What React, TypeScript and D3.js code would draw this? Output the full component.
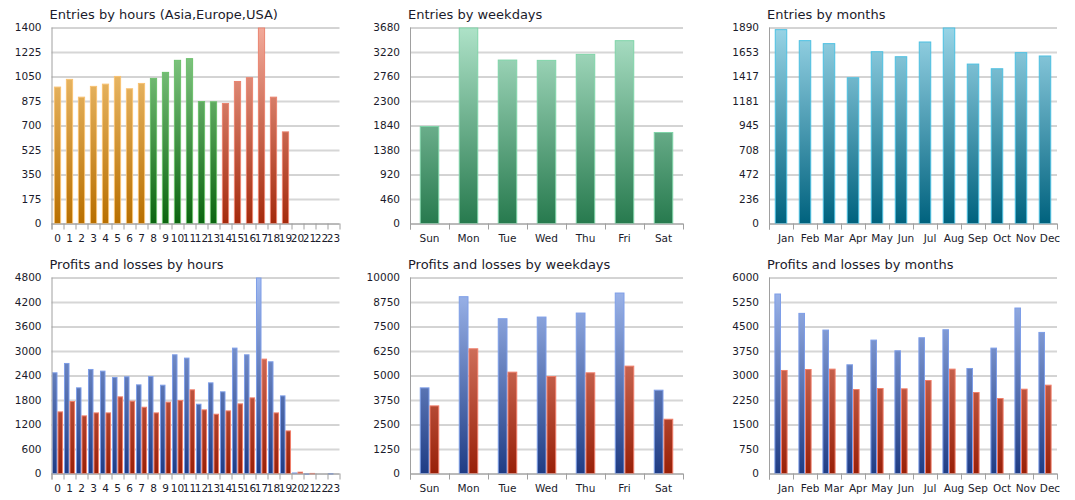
import * as d3 from "d3";
import React from "react";

// ---- data ----
const HOURS = ["0", "1", "2", "3", "4", "5", "6", "7", "8", "9", "10", "11", "12", "13", "14", "15", "16", "17", "18", "19", "20", "21", "22", "23"];
const HOUR_SESSION = [
  "asia", "asia", "asia", "asia", "asia", "asia", "asia", "asia",
  "europe", "europe", "europe", "europe", "europe", "europe",
  "usa", "usa", "usa", "usa", "usa", "usa",
  "usa", "usa", "usa", "usa",
];
const ENTRIES_BY_HOUR = [978, 1033, 906, 983, 999, 1054, 966, 1004, 1040, 1083, 1169, 1181, 875, 873, 861, 1018, 1045, 1400, 906, 658, 0, 0, 0, 0];
const PROFITS_BY_HOUR = [2478, 2707, 2110, 2560, 2519, 2363, 2380, 2183, 2388, 2175, 2919, 2838, 1709, 2232, 2012, 3083, 2919, 4800, 2748, 1913, 25, 4, 0, 10];
const LOSSES_BY_HOUR = [1521, 1775, 1423, 1496, 1496, 1889, 1783, 1635, 1496, 1758, 1799, 2061, 1570, 1464, 1545, 1717, 1864, 2813, 1496, 1055, 45, 14, 0, 0];

const WEEKDAYS = ["Sun", "Mon", "Tue", "Wed", "Thu", "Fri", "Sat"];
const ENTRIES_BY_WEEKDAY = [1831, 3680, 3078, 3072, 3185, 3442, 1718];
const PROFITS_BY_WEEKDAY = [4395, 9046, 7922, 8007, 8211, 9233, 4276];
const LOSSES_BY_WEEKDAY = [3475, 6388, 5196, 4974, 5162, 5503, 2794];

const MONTHS = ["Jan", "Feb", "Mar", "Apr", "May", "Jun", "Jul", "Aug", "Sep", "Oct", "Nov", "Dec"];
const ENTRIES_BY_MONTH = [1874, 1768, 1739, 1410, 1661, 1613, 1755, 1890, 1542, 1497, 1652, 1620];
const PROFITS_BY_MONTH = [5510, 4917, 4406, 3343, 4099, 3772, 4171, 4416, 3230, 3854, 5081, 4334];
const LOSSES_BY_MONTH = [3169, 3199, 3210, 2586, 2617, 2607, 2862, 3210, 2494, 2310, 2596, 2719];

const TICKS_ENTRIES_HOURS = [0, 175, 350, 525, 700, 875, 1050, 1225, 1400];
const TICKS_ENTRIES_WEEKDAYS = [0, 460, 920, 1380, 1840, 2300, 2760, 3220, 3680];
const TICKS_ENTRIES_MONTHS = [0, 236, 472, 708, 945, 1181, 1417, 1653, 1890];
const TICKS_PROFITS_HOURS = [0, 600, 1200, 1800, 2400, 3000, 3600, 4200, 4800];
const TICKS_PROFITS_WEEKDAYS = [0, 1250, 2500, 3750, 5000, 6250, 7500, 8750, 10000];
const TICKS_PROFITS_MONTHS = [0, 750, 1500, 2250, 3000, 3750, 4500, 5250, 6000];

const PALETTE: Record<string, { top: string; bottom: string; stroke: string }> = {
  asia: { top: "#f6cb82", bottom: "#b86f00", stroke: "#f8c274" },
  europe: { top: "#92d492", bottom: "#0b6410", stroke: "#6cc06c" },
  usa: { top: "#f2aa9a", bottom: "#a42a0c", stroke: "#ea8470" },
  weekday: { top: "#aee2c8", bottom: "#277a4e", stroke: "#7fd4a8" },
  month: { top: "#98d4e6", bottom: "#00627e", stroke: "#4cc0e2" },
  profit: { top: "#a4bcf0", bottom: "#1f3c84", stroke: "#7e9ee8" },
  loss: { top: "#ec9a88", bottom: "#982008", stroke: "#f07e6a" },
};

const FONT = "'DejaVu Sans', Verdana, sans-serif";
const TEXT = "#1b1b2b";

interface Series {
  values: number[];
  colorKeys: string[];
}

interface PanelProps {
  id: string;
  title: string;
  categories: string[];
  series: Series[];
  ticks: number[];
  left: number;
  top: number;
  width: number;
  height: number;
  groupWidth: number;
  labelDx?: number;
}

const BarPanel: React.FC<PanelProps> = ({
  id,
  title,
  categories,
  series,
  ticks,
  left,
  top,
  width,
  height,
  groupWidth,
  labelDx = 0,
}) => {
  const x = d3.scaleBand<string>().domain(categories).range([0, width]).padding(0);
  const y = d3
    .scaleLinear()
    .domain([0, ticks[ticks.length - 1]])
    .range([height, 0]);

  const inner = d3
    .scaleBand<number>()
    .domain(d3.range(series.length))
    .range([0, x.bandwidth() * groupWidth]);
  const offset = (x.bandwidth() * (1 - groupWidth)) / 2;

  const usedKeys = Array.from(new Set(series.flatMap((s) => s.colorKeys)));
  const boundaries = categories.map((c) => x(c)!).concat(width);

  return (
    <g transform={`translate(${left},${top})`}>
      <defs>
        {usedKeys.map((k) => (
          <linearGradient
            key={k}
            id={`${id}-${k}`}
            gradientUnits="userSpaceOnUse"
            x1={0}
            y1={0}
            x2={0}
            y2={height}
          >
            <stop offset="0%" stopColor={PALETTE[k].top} />
            <stop offset="100%" stopColor={PALETTE[k].bottom} />
          </linearGradient>
        ))}
      </defs>

      <text x={-2} y={-8.5} fontFamily={FONT} fontSize={13} fill={TEXT}>
        {title}
      </text>

      {/* grid */}
      {ticks.map((t, i) => (
        <line
          key={t}
          x1={0}
          x2={width}
          y1={Math.round(y(t)) + (i % 2 === 0 ? 0.5 : 0)}
          y2={Math.round(y(t)) + (i % 2 === 0 ? 0.5 : 0)}
          stroke={i % 2 === 0 ? "#a8a8a8" : "#d6d6d6"}
          strokeWidth={i % 2 === 0 ? 1 : 2}
        />
      ))}

      {/* y labels */}
      {ticks.map((t) => (
        <text
          key={`l${t}`}
          x={-10}
          y={y(t)}
          dy="0.36em"
          textAnchor="end"
          fontFamily={FONT}
          fontSize={10.5}
          fill={TEXT}
        >
          {t}
        </text>
      ))}

      {/* bars */}
      {series.map((s, si) =>
        categories.map((c, ci) => {
          const v = s.values[ci];
          if (!v) return null;
          const bx = x(c)! + offset + inner(si)!;
          const bw = inner.bandwidth();
          const by = y(v);
          return (
            <rect
              key={`${si}-${c}`}
              x={bx + 0.5}
              y={by + 0.5}
              width={Math.max(bw - 1, 0.5)}
              height={Math.max(height - by - 0.5, 0.5)}
              fill={`url(#${id}-${s.colorKeys[ci]})`}
              stroke={PALETTE[s.colorKeys[ci]].stroke}
              strokeWidth={1}
            />
          );
        }),
      )}

      {/* axes */}
      <line x1={0.5} x2={0.5} y1={0} y2={height + 6} stroke="#a0a0a0" />
      <line x1={0} x2={width} y1={height + 0.5} y2={height + 0.5} stroke="#a0a0a0" />
      {boundaries.map((b, i) => (
        <line
          key={`t${i}`}
          x1={Math.round(b) + 0.5}
          x2={Math.round(b) + 0.5}
          y1={height}
          y2={height + 6}
          stroke="#a0a0a0"
        />
      ))}

      {/* x labels */}
      {categories.map((c) => (
        <text
          key={`x${c}`}
          x={x(c)! + x.bandwidth() / 2 + labelDx}
          y={height + 18}
          textAnchor="middle"
          fontFamily={FONT}
          fontSize={10.5}
          fill={TEXT}
        >
          {c}
        </text>
      ))}
    </g>
  );
};

export default function App() {
  const cols = [
    { left: 51.5, width: 288 },
    { left: 410, width: 273 },
    { left: 769, width: 288 },
  ];
  const rows = [27.5, 277.5];
  const h = 196;

  const weekdayKeys = WEEKDAYS.map(() => "weekday");
  const monthKeys = MONTHS.map(() => "month");

  return (
    <svg
      width={1075}
      height={500}
      style={{ position: "absolute", left: 0, top: 0, background: "#fff" }}
    >
      <BarPanel
        id="eh"
        title="Entries by hours (Asia,Europe,USA)"
        categories={HOURS}
        series={[{ values: ENTRIES_BY_HOUR, colorKeys: HOUR_SESSION }]}
        ticks={TICKS_ENTRIES_HOURS}
        left={cols[0].left}
        top={rows[0]}
        width={cols[0].width}
        height={h}
        groupWidth={0.6}
      />
      <BarPanel
        id="ew"
        title="Entries by weekdays"
        categories={WEEKDAYS}
        series={[{ values: ENTRIES_BY_WEEKDAY, colorKeys: weekdayKeys }]}
        ticks={TICKS_ENTRIES_WEEKDAYS}
        left={cols[1].left}
        top={rows[0]}
        width={cols[1].width}
        height={h}
        groupWidth={0.5}
      />
      <BarPanel
        id="em"
        title="Entries by months"
        categories={MONTHS}
        series={[{ values: ENTRIES_BY_MONTH, colorKeys: monthKeys }]}
        ticks={TICKS_ENTRIES_MONTHS}
        left={cols[2].left}
        top={rows[0]}
        width={cols[2].width}
        height={h}
        groupWidth={0.52}
        labelDx={5}
      />
      <BarPanel
        id="ph"
        title="Profits and losses by hours"
        categories={HOURS}
        series={[
          { values: PROFITS_BY_HOUR, colorKeys: HOURS.map(() => "profit") },
          { values: LOSSES_BY_HOUR, colorKeys: HOURS.map(() => "loss") },
        ]}
        ticks={TICKS_PROFITS_HOURS}
        left={cols[0].left}
        top={rows[1]}
        width={cols[0].width}
        height={h}
        groupWidth={0.92}
      />
      <BarPanel
        id="pw"
        title="Profits and losses by weekdays"
        categories={WEEKDAYS}
        series={[
          { values: PROFITS_BY_WEEKDAY, colorKeys: WEEKDAYS.map(() => "profit") },
          { values: LOSSES_BY_WEEKDAY, colorKeys: WEEKDAYS.map(() => "loss") },
        ]}
        ticks={TICKS_PROFITS_WEEKDAYS}
        left={cols[1].left}
        top={rows[1]}
        width={cols[1].width}
        height={h}
        groupWidth={0.5}
      />
      <BarPanel
        id="pm"
        title="Profits and losses by months"
        categories={MONTHS}
        series={[
          { values: PROFITS_BY_MONTH, colorKeys: MONTHS.map(() => "profit") },
          { values: LOSSES_BY_MONTH, colorKeys: MONTHS.map(() => "loss") },
        ]}
        ticks={TICKS_PROFITS_MONTHS}
        left={cols[2].left}
        top={rows[1]}
        width={cols[2].width}
        height={h}
        groupWidth={0.55}
        labelDx={5}
      />
    </svg>
  );
}
